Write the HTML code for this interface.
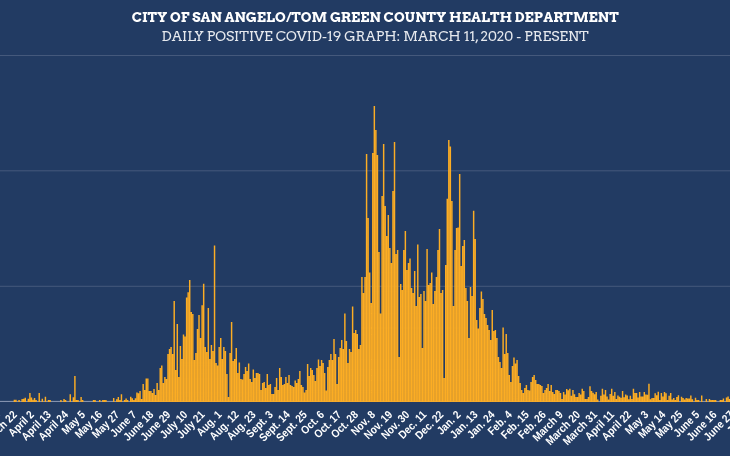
<!DOCTYPE html>
<html><head><meta charset="utf-8"><style>
html,body{margin:0;padding:0;background:#223b63;}
body{width:730px;height:456px;overflow:hidden;}
svg{display:block;}
svg{will-change:transform;}
.t{font-family:"Arvo","DejaVu Serif","Liberation Serif",serif;fill:#ffffff;}
.l{font-family:"Liberation Sans",Arial,sans-serif;font-weight:700;font-size:11.3px;fill:#ffffff;text-anchor:end;}
</style></head><body>
<svg width="730" height="456" viewBox="0 0 730 456">
<rect width="730" height="456" fill="#223b63"/>
<text class="t" x="375.2" y="22.0" text-anchor="middle" font-weight="700" font-size="13.7" textLength="487" lengthAdjust="spacingAndGlyphs">CITY OF SAN ANGELO/TOM GREEN COUNTY HEALTH DEPARTMENT</text>
<text class="t" x="375.1" y="40.9" text-anchor="middle" font-weight="400" font-size="13.7" fill="#e6e9ee" style="fill:#e6e9ee" textLength="427" lengthAdjust="spacingAndGlyphs">DAILY POSITIVE COVID-19 GRAPH: MARCH 11, 2020 - PRESENT</text>
<g fill="#45597c"><rect x="0" y="55" width="730" height="1"/><rect x="0" y="170.3" width="730" height="1"/><rect x="0" y="285.8" width="730" height="1"/></g>
<rect x="0" y="400.9" width="730" height="1" fill="#8e9cb6"/>
<path fill="#fcad24" d="M13.66 401.9V399.8h1.46V401.9zM15.21 401.9V399.8h1.46V401.9zM18.32 401.9V400.0h1.46V401.9zM21.42 401.9V399.0h1.46V401.9zM22.97 401.9V398.8h1.46V401.9zM24.52 401.9V397.8h1.46V401.9zM27.63 401.9V398.8h1.46V401.9zM29.18 401.9V393.0h1.46V401.9zM30.73 401.9V397.6h1.46V401.9zM32.28 401.9V399.7h1.46V401.9zM33.83 401.9V397.9h1.46V401.9zM35.38 401.9V400.0h1.46V401.9zM38.49 401.9V393.0h1.46V401.9zM41.59 401.9V398.8h1.46V401.9zM44.69 401.9V396.8h1.46V401.9zM47.79 401.9V400.0h1.46V401.9zM49.35 401.9V400.0h1.46V401.9zM60.21 401.9V400.1h1.46V401.9zM63.31 401.9V399.1h1.46V401.9zM64.86 401.9V400.1h1.46V401.9zM69.52 401.9V394.3h1.46V401.9zM72.62 401.9V397.2h1.46V401.9zM74.17 401.9V376.0h1.46V401.9zM75.72 401.9V400.1h1.46V401.9zM77.27 401.9V400.1h1.46V401.9zM80.38 401.9V396.9h1.46V401.9zM81.93 401.9V400.1h1.46V401.9zM92.79 401.9V400.1h1.46V401.9zM94.34 401.9V400.1h1.46V401.9zM98.99 401.9V400.1h1.46V401.9zM102.10 401.9V400.1h1.46V401.9zM103.65 401.9V400.1h1.46V401.9zM105.20 401.9V400.1h1.46V401.9zM112.96 401.9V397.9h1.46V401.9zM116.06 401.9V399.3h1.46V401.9zM117.61 401.9V396.9h1.46V401.9zM119.16 401.9V400.0h1.46V401.9zM120.72 401.9V394.2h1.46V401.9zM123.82 401.9V400.0h1.46V401.9zM125.37 401.9V398.6h1.46V401.9zM126.92 401.9V400.0h1.46V401.9zM130.02 401.9V396.7h1.46V401.9zM131.58 401.9V398.2h1.46V401.9zM133.13 401.9V400.0h1.46V401.9zM134.68 401.9V398.2h1.46V401.9zM136.23 401.9V392.4h1.46V401.9zM137.78 401.9V393.3h1.46V401.9zM139.33 401.9V390.9h1.46V401.9zM140.88 401.9V399.1h1.46V401.9zM142.44 401.9V384.0h1.46V401.9zM143.99 401.9V390.0h1.46V401.9zM145.54 401.9V378.6h1.46V401.9zM147.09 401.9V378.6h1.46V401.9zM148.64 401.9V391.0h1.46V401.9zM150.19 401.9V391.0h1.46V401.9zM151.75 401.9V393.0h1.46V401.9zM153.30 401.9V389.0h1.46V401.9zM154.85 401.9V395.0h1.46V401.9zM156.40 401.9V383.0h1.46V401.9zM157.95 401.9V390.0h1.46V401.9zM159.50 401.9V368.0h1.46V401.9zM161.05 401.9V365.4h1.46V401.9zM162.61 401.9V383.0h1.46V401.9zM164.16 401.9V377.0h1.46V401.9zM165.71 401.9V379.0h1.46V401.9zM167.26 401.9V354.0h1.46V401.9zM168.81 401.9V349.0h1.46V401.9zM170.36 401.9V347.0h1.46V401.9zM171.91 401.9V354.0h1.46V401.9zM173.47 401.9V300.9h1.46V401.9zM175.02 401.9V370.0h1.46V401.9zM176.57 401.9V324.0h1.46V401.9zM178.12 401.9V377.0h1.46V401.9zM179.67 401.9V346.0h1.46V401.9zM181.22 401.9V359.0h1.46V401.9zM182.78 401.9V334.6h1.46V401.9zM184.33 401.9V336.6h1.46V401.9zM185.88 401.9V297.4h1.46V401.9zM187.43 401.9V292.2h1.46V401.9zM188.98 401.9V280.1h1.46V401.9zM190.53 401.9V312.0h1.46V401.9zM192.08 401.9V314.0h1.46V401.9zM193.64 401.9V360.0h1.46V401.9zM195.19 401.9V353.0h1.46V401.9zM196.74 401.9V329.0h1.46V401.9zM198.29 401.9V315.0h1.46V401.9zM199.84 401.9V338.0h1.46V401.9zM201.39 401.9V305.3h1.46V401.9zM202.94 401.9V283.8h1.46V401.9zM204.50 401.9V347.0h1.46V401.9zM206.05 401.9V352.0h1.46V401.9zM207.60 401.9V307.9h1.46V401.9zM209.15 401.9V359.0h1.46V401.9zM210.70 401.9V345.0h1.46V401.9zM212.25 401.9V351.0h1.46V401.9zM213.81 401.9V245.5h1.46V401.9zM215.36 401.9V363.0h1.46V401.9zM216.91 401.9V365.4h1.46V401.9zM218.46 401.9V347.0h1.46V401.9zM220.01 401.9V338.0h1.46V401.9zM221.56 401.9V359.0h1.46V401.9zM223.11 401.9V347.0h1.46V401.9zM224.67 401.9V351.0h1.46V401.9zM226.22 401.9V374.0h1.46V401.9zM227.77 401.9V397.0h1.46V401.9zM229.32 401.9V353.0h1.46V401.9zM230.87 401.9V322.0h1.46V401.9zM232.42 401.9V361.0h1.46V401.9zM233.97 401.9V359.0h1.46V401.9zM235.53 401.9V348.0h1.46V401.9zM237.08 401.9V373.0h1.46V401.9zM238.63 401.9V362.6h1.46V401.9zM240.18 401.9V379.0h1.46V401.9zM241.73 401.9V379.4h1.46V401.9zM243.28 401.9V374.0h1.46V401.9zM244.84 401.9V367.0h1.46V401.9zM246.39 401.9V371.0h1.46V401.9zM247.94 401.9V363.4h1.46V401.9zM249.49 401.9V379.0h1.46V401.9zM251.04 401.9V382.0h1.46V401.9zM252.59 401.9V369.4h1.46V401.9zM254.14 401.9V378.0h1.46V401.9zM255.70 401.9V373.0h1.46V401.9zM257.25 401.9V373.0h1.46V401.9zM258.80 401.9V374.0h1.46V401.9zM260.35 401.9V390.0h1.46V401.9zM261.90 401.9V383.0h1.46V401.9zM263.45 401.9V382.0h1.46V401.9zM265.00 401.9V388.0h1.46V401.9zM266.56 401.9V374.0h1.46V401.9zM268.11 401.9V385.0h1.46V401.9zM269.66 401.9V384.0h1.46V401.9zM271.21 401.9V394.0h1.46V401.9zM272.76 401.9V394.0h1.46V401.9zM274.31 401.9V387.0h1.46V401.9zM275.87 401.9V378.0h1.46V401.9zM277.42 401.9V390.0h1.46V401.9zM278.97 401.9V368.0h1.46V401.9zM280.52 401.9V377.0h1.46V401.9zM282.07 401.9V385.0h1.46V401.9zM283.62 401.9V384.0h1.46V401.9zM285.17 401.9V377.0h1.46V401.9zM286.73 401.9V383.0h1.46V401.9zM288.28 401.9V375.0h1.46V401.9zM289.83 401.9V385.0h1.46V401.9zM291.38 401.9V386.0h1.46V401.9zM292.93 401.9V387.0h1.46V401.9zM294.48 401.9V380.6h1.46V401.9zM296.03 401.9V383.0h1.46V401.9zM297.59 401.9V379.0h1.46V401.9zM299.14 401.9V371.0h1.46V401.9zM300.69 401.9V385.0h1.46V401.9zM302.24 401.9V387.0h1.46V401.9zM303.79 401.9V392.6h1.46V401.9zM305.34 401.9V390.0h1.46V401.9zM306.89 401.9V364.0h1.46V401.9zM308.45 401.9V376.0h1.46V401.9zM310.00 401.9V368.0h1.46V401.9zM311.55 401.9V370.0h1.46V401.9zM313.10 401.9V375.0h1.46V401.9zM314.65 401.9V381.0h1.46V401.9zM316.20 401.9V368.0h1.46V401.9zM317.76 401.9V359.6h1.46V401.9zM319.31 401.9V366.0h1.46V401.9zM320.86 401.9V360.0h1.46V401.9zM322.41 401.9V363.0h1.46V401.9zM323.96 401.9V373.0h1.46V401.9zM325.51 401.9V390.6h1.46V401.9zM327.06 401.9V367.0h1.46V401.9zM328.62 401.9V360.0h1.46V401.9zM330.17 401.9V354.0h1.46V401.9zM331.72 401.9V360.0h1.46V401.9zM333.27 401.9V339.0h1.46V401.9zM334.82 401.9V354.0h1.46V401.9zM336.37 401.9V384.0h1.46V401.9zM337.92 401.9V357.0h1.46V401.9zM339.48 401.9V348.0h1.46V401.9zM341.03 401.9V340.0h1.46V401.9zM342.58 401.9V349.0h1.46V401.9zM344.13 401.9V313.4h1.46V401.9zM345.68 401.9V341.0h1.46V401.9zM347.23 401.9V363.0h1.46V401.9zM348.79 401.9V349.0h1.46V401.9zM350.34 401.9V352.0h1.46V401.9zM351.89 401.9V306.4h1.46V401.9zM353.44 401.9V333.0h1.46V401.9zM354.99 401.9V330.0h1.46V401.9zM356.54 401.9V334.0h1.46V401.9zM358.09 401.9V349.0h1.46V401.9zM359.65 401.9V345.0h1.46V401.9zM361.20 401.9V277.0h1.46V401.9zM362.75 401.9V293.0h1.46V401.9zM364.30 401.9V277.0h1.46V401.9zM365.85 401.9V154.0h1.46V401.9zM367.40 401.9V218.0h1.46V401.9zM368.96 401.9V272.4h1.46V401.9zM370.51 401.9V303.0h1.46V401.9zM372.06 401.9V153.0h1.46V401.9zM373.61 401.9V106.0h1.46V401.9zM375.16 401.9V130.0h1.46V401.9zM376.71 401.9V155.0h1.46V401.9zM378.26 401.9V252.0h1.46V401.9zM379.82 401.9V313.4h1.46V401.9zM381.37 401.9V196.0h1.46V401.9zM382.92 401.9V144.0h1.46V401.9zM384.47 401.9V206.0h1.46V401.9zM386.02 401.9V236.0h1.46V401.9zM387.57 401.9V215.0h1.46V401.9zM389.12 401.9V248.0h1.46V401.9zM390.68 401.9V263.0h1.46V401.9zM392.23 401.9V191.0h1.46V401.9zM393.78 401.9V142.0h1.46V401.9zM395.33 401.9V254.0h1.46V401.9zM396.88 401.9V250.0h1.46V401.9zM398.43 401.9V357.0h1.46V401.9zM399.99 401.9V284.0h1.46V401.9zM401.54 401.9V290.0h1.46V401.9zM403.09 401.9V250.0h1.46V401.9zM404.64 401.9V231.0h1.46V401.9zM406.19 401.9V270.0h1.46V401.9zM407.74 401.9V263.0h1.46V401.9zM409.29 401.9V258.4h1.46V401.9zM410.85 401.9V288.0h1.46V401.9zM412.40 401.9V293.0h1.46V401.9zM413.95 401.9V271.0h1.46V401.9zM415.50 401.9V306.0h1.46V401.9zM417.05 401.9V244.4h1.46V401.9zM418.60 401.9V297.0h1.46V401.9zM420.15 401.9V294.0h1.46V401.9zM421.71 401.9V348.0h1.46V401.9zM423.26 401.9V291.0h1.46V401.9zM424.81 401.9V301.0h1.46V401.9zM426.36 401.9V249.0h1.46V401.9zM427.91 401.9V285.0h1.46V401.9zM429.46 401.9V283.0h1.46V401.9zM431.01 401.9V272.4h1.46V401.9zM432.57 401.9V304.0h1.46V401.9zM434.12 401.9V291.0h1.46V401.9zM435.67 401.9V277.0h1.46V401.9zM437.22 401.9V250.0h1.46V401.9zM438.77 401.9V229.0h1.46V401.9zM440.32 401.9V293.0h1.46V401.9zM441.88 401.9V290.0h1.46V401.9zM443.43 401.9V378.0h1.46V401.9zM444.98 401.9V265.0h1.46V401.9zM446.53 401.9V198.7h1.46V401.9zM448.08 401.9V140.0h1.46V401.9zM449.63 401.9V146.4h1.46V401.9zM451.18 401.9V201.0h1.46V401.9zM452.74 401.9V306.0h1.46V401.9zM454.29 401.9V250.0h1.46V401.9zM455.84 401.9V228.0h1.46V401.9zM457.39 401.9V227.6h1.46V401.9zM458.94 401.9V173.9h1.46V401.9zM460.49 401.9V266.0h1.46V401.9zM462.04 401.9V246.0h1.46V401.9zM463.60 401.9V240.0h1.46V401.9zM465.15 401.9V288.0h1.46V401.9zM466.70 401.9V301.0h1.46V401.9zM468.25 401.9V338.0h1.46V401.9zM469.80 401.9V287.0h1.46V401.9zM471.35 401.9V296.0h1.46V401.9zM472.91 401.9V210.7h1.46V401.9zM474.46 401.9V239.0h1.46V401.9zM476.01 401.9V320.0h1.46V401.9zM477.56 401.9V328.6h1.46V401.9zM479.11 401.9V308.0h1.46V401.9zM480.66 401.9V291.6h1.46V401.9zM482.21 401.9V299.0h1.46V401.9zM483.77 401.9V314.0h1.46V401.9zM485.32 401.9V318.0h1.46V401.9zM486.87 401.9V325.0h1.46V401.9zM488.42 401.9V330.0h1.46V401.9zM489.97 401.9V340.0h1.46V401.9zM491.52 401.9V310.0h1.46V401.9zM493.08 401.9V331.0h1.46V401.9zM494.63 401.9V330.0h1.46V401.9zM496.18 401.9V338.0h1.46V401.9zM497.73 401.9V357.0h1.46V401.9zM499.28 401.9V362.0h1.46V401.9zM500.83 401.9V368.0h1.46V401.9zM502.38 401.9V327.4h1.46V401.9zM503.94 401.9V354.0h1.46V401.9zM505.49 401.9V334.0h1.46V401.9zM507.04 401.9V353.0h1.46V401.9zM508.59 401.9V375.0h1.46V401.9zM510.14 401.9V382.0h1.46V401.9zM511.69 401.9V366.0h1.46V401.9zM513.24 401.9V357.4h1.46V401.9zM514.80 401.9V363.4h1.46V401.9zM516.35 401.9V360.0h1.46V401.9zM517.90 401.9V376.0h1.46V401.9zM519.45 401.9V383.0h1.46V401.9zM521.00 401.9V390.0h1.46V401.9zM522.55 401.9V393.0h1.46V401.9zM524.11 401.9V388.0h1.46V401.9zM525.66 401.9V385.0h1.46V401.9zM527.21 401.9V390.0h1.46V401.9zM528.76 401.9V390.6h1.46V401.9zM530.31 401.9V382.0h1.46V401.9zM531.86 401.9V377.0h1.46V401.9zM533.41 401.9V375.0h1.46V401.9zM534.97 401.9V380.0h1.46V401.9zM536.52 401.9V384.0h1.46V401.9zM538.07 401.9V384.0h1.46V401.9zM539.62 401.9V385.0h1.46V401.9zM541.17 401.9V386.0h1.46V401.9zM542.72 401.9V393.0h1.46V401.9zM544.27 401.9V390.0h1.46V401.9zM545.83 401.9V388.0h1.46V401.9zM547.38 401.9V384.0h1.46V401.9zM548.93 401.9V391.0h1.46V401.9zM550.48 401.9V385.0h1.46V401.9zM552.03 401.9V392.0h1.46V401.9zM553.58 401.9V394.0h1.46V401.9zM555.13 401.9V389.9h1.46V401.9zM556.69 401.9V389.9h1.46V401.9zM558.24 401.9V391.0h1.46V401.9zM559.79 401.9V393.0h1.46V401.9zM561.34 401.9V398.9h1.46V401.9zM562.89 401.9V392.1h1.46V401.9zM564.44 401.9V394.6h1.46V401.9zM566.00 401.9V389.0h1.46V401.9zM567.55 401.9V390.3h1.46V401.9zM569.10 401.9V388.7h1.46V401.9zM570.65 401.9V395.8h1.46V401.9zM572.20 401.9V389.9h1.46V401.9zM573.75 401.9V394.3h1.46V401.9zM575.30 401.9V397.1h1.46V401.9zM576.86 401.9V397.1h1.46V401.9zM578.41 401.9V393.1h1.46V401.9zM579.96 401.9V394.6h1.46V401.9zM581.51 401.9V388.7h1.46V401.9zM583.06 401.9V390.9h1.46V401.9zM584.61 401.9V398.9h1.46V401.9zM586.17 401.9V398.9h1.46V401.9zM587.72 401.9V397.1h1.46V401.9zM589.27 401.9V386.2h1.46V401.9zM590.82 401.9V390.9h1.46V401.9zM592.37 401.9V392.7h1.46V401.9zM593.92 401.9V394.3h1.46V401.9zM595.47 401.9V391.9h1.46V401.9zM597.03 401.9V399.5h1.46V401.9zM600.13 401.9V395.8h1.46V401.9zM601.68 401.9V388.7h1.46V401.9zM603.23 401.9V394.6h1.46V401.9zM604.78 401.9V389.9h1.46V401.9zM606.33 401.9V396.4h1.46V401.9zM607.89 401.9V399.5h1.46V401.9zM609.44 401.9V394.0h1.46V401.9zM610.99 401.9V388.7h1.46V401.9zM612.54 401.9V395.8h1.46V401.9zM614.09 401.9V392.1h1.46V401.9zM615.64 401.9V398.9h1.46V401.9zM617.20 401.9V395.6h1.46V401.9zM618.75 401.9V396.8h1.46V401.9zM620.30 401.9V397.7h1.46V401.9zM621.85 401.9V391.1h1.46V401.9zM623.40 401.9V397.3h1.46V401.9zM624.95 401.9V394.6h1.46V401.9zM626.50 401.9V395.6h1.46V401.9zM628.06 401.9V399.3h1.46V401.9zM629.61 401.9V395.8h1.46V401.9zM631.16 401.9V398.9h1.46V401.9zM632.71 401.9V388.8h1.46V401.9zM634.26 401.9V393.1h1.46V401.9zM635.81 401.9V393.1h1.46V401.9zM637.36 401.9V397.6h1.46V401.9zM638.92 401.9V392.1h1.46V401.9zM640.47 401.9V396.6h1.46V401.9zM642.02 401.9V396.6h1.46V401.9zM643.57 401.9V392.1h1.46V401.9zM645.12 401.9V394.4h1.46V401.9zM646.67 401.9V394.7h1.46V401.9zM648.23 401.9V383.8h1.46V401.9zM649.78 401.9V399.3h1.46V401.9zM651.33 401.9V397.9h1.46V401.9zM652.88 401.9V397.9h1.46V401.9zM654.43 401.9V393.2h1.46V401.9zM655.98 401.9V395.3h1.46V401.9zM657.53 401.9V391.8h1.46V401.9zM659.09 401.9V399.9h1.46V401.9zM660.64 401.9V393.0h1.46V401.9zM662.19 401.9V396.4h1.46V401.9zM663.74 401.9V392.1h1.46V401.9zM665.29 401.9V393.2h1.46V401.9zM666.84 401.9V399.9h1.46V401.9zM668.39 401.9V395.8h1.46V401.9zM669.95 401.9V393.0h1.46V401.9zM671.50 401.9V399.6h1.46V401.9zM673.05 401.9V397.9h1.46V401.9zM674.60 401.9V399.9h1.46V401.9zM676.15 401.9V397.0h1.46V401.9zM677.70 401.9V395.3h1.46V401.9zM680.81 401.9V396.7h1.46V401.9zM682.36 401.9V397.9h1.46V401.9zM683.91 401.9V399.6h1.46V401.9zM685.46 401.9V397.9h1.46V401.9zM687.01 401.9V398.5h1.46V401.9zM688.56 401.9V398.4h1.46V401.9zM690.12 401.9V395.5h1.46V401.9zM691.67 401.9V399.3h1.46V401.9zM694.77 401.9V397.8h1.46V401.9zM696.32 401.9V400.1h1.46V401.9zM697.87 401.9V400.1h1.46V401.9zM700.98 401.9V395.5h1.46V401.9zM705.63 401.9V399.0h1.46V401.9zM708.73 401.9V399.0h1.46V401.9zM710.28 401.9V400.1h1.46V401.9zM711.84 401.9V400.1h1.46V401.9zM713.39 401.9V400.1h1.46V401.9zM714.94 401.9V400.1h1.46V401.9zM719.59 401.9V400.0h1.46V401.9zM721.15 401.9V400.0h1.46V401.9zM722.70 401.9V398.5h1.46V401.9zM725.80 401.9V397.5h1.46V401.9zM727.35 401.9V396.5h1.46V401.9zM728.90 401.9V399.0h1.46V401.9z"/>
<g class="l">
<text transform="translate(0.53,415.4) rotate(-45) scale(0.88,1)">March 11</text>
<text transform="translate(17.60,415.4) rotate(-45) scale(0.88,1)">March 22</text>
<text transform="translate(34.67,415.4) rotate(-45) scale(0.88,1)">April 2</text>
<text transform="translate(51.73,415.4) rotate(-45) scale(0.88,1)">April 13</text>
<text transform="translate(68.80,415.4) rotate(-45) scale(0.88,1)">April 24</text>
<text transform="translate(85.87,415.4) rotate(-45) scale(0.88,1)">May 5</text>
<text transform="translate(102.93,415.4) rotate(-45) scale(0.88,1)">May 16</text>
<text transform="translate(120.00,415.4) rotate(-45) scale(0.88,1)">May 27</text>
<text transform="translate(137.07,415.4) rotate(-45) scale(0.88,1)">June 7</text>
<text transform="translate(154.13,415.4) rotate(-45) scale(0.88,1)">June 18</text>
<text transform="translate(171.20,415.4) rotate(-45) scale(0.88,1)">June 29</text>
<text transform="translate(188.27,415.4) rotate(-45) scale(0.88,1)">July 10</text>
<text transform="translate(205.33,415.4) rotate(-45) scale(0.88,1)">July 21</text>
<text transform="translate(222.40,415.4) rotate(-45) scale(0.88,1)">Aug. 1</text>
<text transform="translate(239.46,415.4) rotate(-45) scale(0.88,1)">Aug. 12</text>
<text transform="translate(256.53,415.4) rotate(-45) scale(0.88,1)">Aug. 23</text>
<text transform="translate(273.60,415.4) rotate(-45) scale(0.88,1)">Sept. 3</text>
<text transform="translate(290.66,415.4) rotate(-45) scale(0.88,1)">Sept. 14</text>
<text transform="translate(307.73,415.4) rotate(-45) scale(0.88,1)">Sept. 25</text>
<text transform="translate(324.80,415.4) rotate(-45) scale(0.88,1)">Oct. 6</text>
<text transform="translate(341.86,415.4) rotate(-45) scale(0.88,1)">Oct. 17</text>
<text transform="translate(358.93,415.4) rotate(-45) scale(0.88,1)">Oct. 28</text>
<text transform="translate(376.00,415.4) rotate(-45) scale(0.88,1)">Nov. 8</text>
<text transform="translate(393.06,415.4) rotate(-45) scale(0.88,1)">Nov. 19</text>
<text transform="translate(410.13,415.4) rotate(-45) scale(0.88,1)">Nov. 30</text>
<text transform="translate(427.20,415.4) rotate(-45) scale(0.88,1)">Dec. 11</text>
<text transform="translate(444.26,415.4) rotate(-45) scale(0.88,1)">Dec. 22</text>
<text transform="translate(461.33,415.4) rotate(-45) scale(0.88,1)">Jan. 2</text>
<text transform="translate(478.40,415.4) rotate(-45) scale(0.88,1)">Jan. 13</text>
<text transform="translate(495.46,415.4) rotate(-45) scale(0.88,1)">Jan. 24</text>
<text transform="translate(512.53,415.4) rotate(-45) scale(0.88,1)">Feb. 4</text>
<text transform="translate(529.60,415.4) rotate(-45) scale(0.88,1)">Feb. 15</text>
<text transform="translate(546.66,415.4) rotate(-45) scale(0.88,1)">Feb. 26</text>
<text transform="translate(563.73,415.4) rotate(-45) scale(0.88,1)">March 9</text>
<text transform="translate(580.79,415.4) rotate(-45) scale(0.88,1)">March 20</text>
<text transform="translate(597.86,415.4) rotate(-45) scale(0.88,1)">March 31</text>
<text transform="translate(614.93,415.4) rotate(-45) scale(0.88,1)">April 11</text>
<text transform="translate(631.99,415.4) rotate(-45) scale(0.88,1)">April 22</text>
<text transform="translate(649.06,415.4) rotate(-45) scale(0.88,1)">May 3</text>
<text transform="translate(666.13,415.4) rotate(-45) scale(0.88,1)">May 14</text>
<text transform="translate(683.19,415.4) rotate(-45) scale(0.88,1)">May 25</text>
<text transform="translate(700.26,415.4) rotate(-45) scale(0.88,1)">June 5</text>
<text transform="translate(717.33,415.4) rotate(-45) scale(0.88,1)">June 16</text>
<text transform="translate(734.39,415.4) rotate(-45) scale(0.88,1)">June 27</text>
<text transform="translate(751.46,415.4) rotate(-45) scale(0.88,1)">July 8</text>
<text transform="translate(768.53,415.4) rotate(-45) scale(0.88,1)">July 19</text>
<text transform="translate(785.59,415.4) rotate(-45) scale(0.88,1)">July 30</text>
</g>
</svg>
</body></html>
